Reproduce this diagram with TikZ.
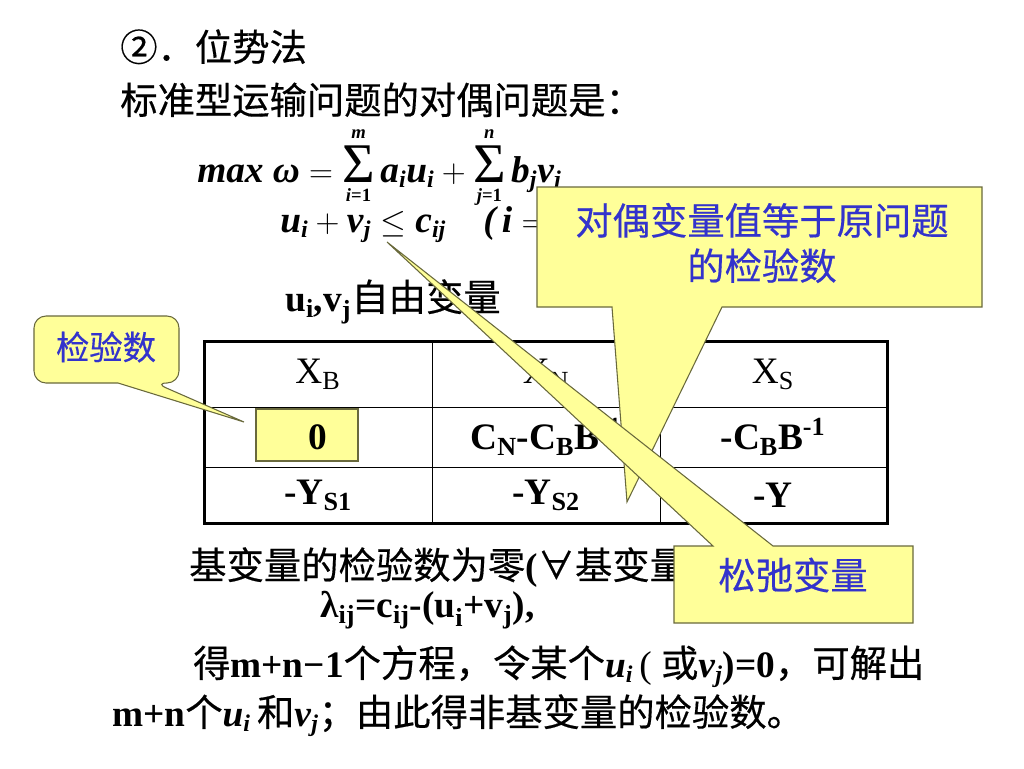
\documentclass[tikz,border=0pt]{standalone}
\usepackage{amsmath}
\usepackage{fontspec}
\setmainfont{Liberation Serif}
\newfontfamily\cjk[FakeBold=0.4]{Noto Sans CJK SC}
\usepackage{tikz}

\definecolor{notefill}{RGB}{255,255,153}
\definecolor{noteedge}{RGB}{105,105,60}
\definecolor{noteblue}{RGB}{51,51,204}

\newcommand{\bv}[1]{\textbf{\textit{#1}}}
\newcommand{\bu}[1]{\textbf{#1}}
% small indices of the dual model
\newcommand{\lo}[1]{\text{\fontsize{18}{19}\selectfont\bfseries\itshape #1}}
\newcommand{\lm}[1]{\text{\fontsize{14}{15}\selectfont\bfseries #1}}
\newcommand{\Sumop}{\mathop{\text{\normalfont\scalebox{1.5}{Σ}}}\limits}

\begin{document}
\begin{tikzpicture}[
    x=0.75pt, y=-0.75pt,
    txt/.style = {
        anchor=base west, inner sep=0pt, font=\fontsize{28}{34}\selectfont
    },
    cell/.style = {inner sep=0pt, font=\fontsize{28}{34}\selectfont},
    note/.style = {draw=noteedge, fill=notefill, line width=0.8pt},
    notetext/.style = {
        text=noteblue, align=center, font=\cjk\fontsize{28}{34}\selectfont
    }
]
\useasboundingbox (0,0) rectangle (1024,768);

% heading
\node[txt] (title) at (120,61) {\cjk ②．位势法};
\node[txt] (intro) at (120,114) {\cjk 标准型运输问题的对偶问题是：};

% dual model
\node[txt] (obj) at (197,182) {$\bv{max}\ \bv{ω} = \Sumop_{\lm{\textit{i}=1}}^{\lm{\textit{m}}}\bv{a}_{\lo{i}}\bv{u}_{\lo{i}} + \Sumop_{\lm{\textit{j}=1}}^{\lm{\textit{n}}}\bv{b}_{\lo{j}}\bv{v}_{\lo{j}}$};
\node[txt] (cons) at (280,232) {$\bv{u}_{\lo{i}} + \bv{v}_{\lo{j}} \le \bv{c}_{\lo{ij}}\quad\bv{(\,i} =$};
\node[txt] (free) at (285,311) {$\bu{u}_{\bu{i}}\bu{,v}_{\bu{j}}$\cjk 自由变量};

% table
\draw[line width=0.75pt]
    (432,341) -- (432,523) (660,341) -- (660,523)
    (204,407) -- (887,407) (204,467) -- (887,467);
\draw[line width=2.25pt] (204,341) rectangle (887,523);
\draw[note] (256,409) rectangle (358,461);
\node[cell] (xb) at (318,374) {X$_{\text{B}}$};
\node[cell] (xn) at (546,374) {X$_{\text{N}}$};
\node[cell] (xs) at (773,374) {X$_{\text{S}}$};
\node[cell] (zero) at (318,437) {\bu{0}};
\node[cell] (cn) at (546,437) {$\bu{C}_{\bu{N}}\bu{-C}_{\bu{B}}\bu{B}^{\bu{-1}}$};
\node[cell] (cb) at (773,437) {$\bu{-C}_{\bu{B}}\bu{B}^{\bu{-1}}$};
\node[cell] (ys1) at (318,495) {$\bu{-Y}_{\bu{S1}}$};
\node[cell] (ys2) at (546,495) {$\bu{-Y}_{\bu{S2}}$};
\node[cell] (y) at (773,495) {\bu{-Y}};

% text below the table
\node[txt] (basic) at (189,579) {{\cjk 基变量的检验数为零}\bu{(}{\cjk ∀基变量}\bu{)}};
\node[txt] (lam) at (320,617) {$\bu{λ}_{\bu{ij}}\bu{=c}_{\bu{ij}}\bu{-(u}_{\bu{i}}\bu{+v}_{\bu{j}}\bu{),}$};
\node[txt] (solve) at (193,677) {{\cjk 得}\bu{m+n−1}{\cjk 个方程，令某个}$\bv{u}_{\lo{i}}$\,( {\cjk 或}$\bv{v}_{\lo{j}}$\bu{)=0}{\cjk ，可解出}};
\node[txt] (rest) at (112,726) {\bu{m+n}{\cjk 个}$\bv{u}_{\lo{i}}$\,{\cjk 和}$\bv{v}_{\lo{j}}${\cjk ；由此得非基变量的检验数。}};

% callouts
\coordinate (checkTip) at (244,422);
\draw[note, rounded corners=9] (34,350) |- (179,316) |- (155,383)
    [sharp corners] -- (checkTip) -- (118,383)
    [rounded corners=9] -| (34,350) -- cycle;
\node[notetext, font=\cjk\fontsize{25}{30}\selectfont] (checkNote) at (106,347) {检验数};

\coordinate (dualTip) at (627,502);
\draw[note] (537,187) -- (982,187) -- (982,307) -- (722,307) -- (dualTip)
    -- (612,307) -- (537,307) -- cycle;
\node[notetext] (dualNote) at (762,243) {对偶变量值等于原问题\\的检验数};

\coordinate (slackTip) at (387,242);
\draw[note] (674,546) -- (713,546) -- (slackTip) -- (773,546) -- (913,546)
    -- (913,623) -- (674,623) -- cycle;
\node[notetext] (slackNote) at (793,575) {松弛变量};
\end{tikzpicture}
\end{document}
